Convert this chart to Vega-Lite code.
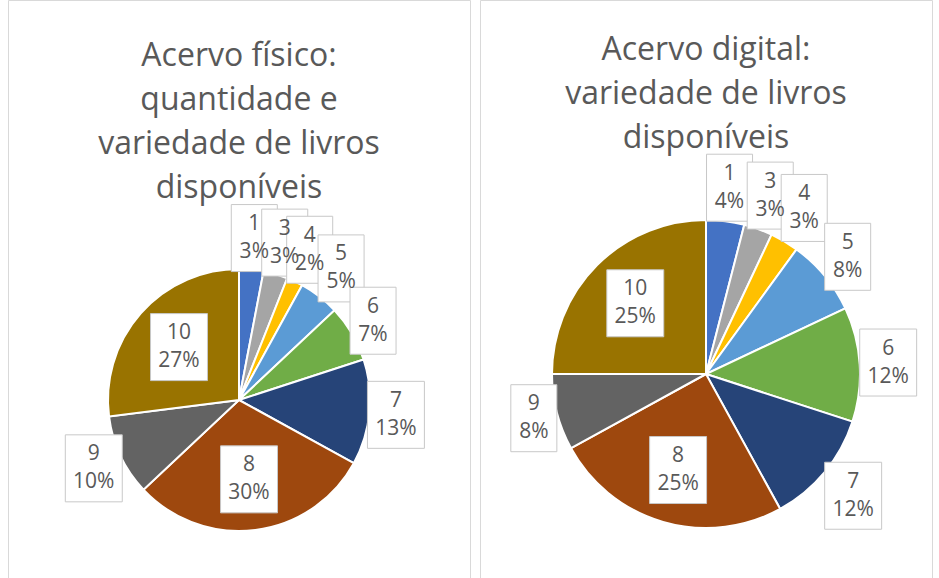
{
  "$schema": "https://vega.github.io/schema/vega-lite/v6.json",
  "background": "white",
  "padding": {"left": 7, "top": -1, "right": 0, "bottom": 0},
  "spacing": 8,
  "config": {
    "view": {"stroke": "#d9d9d9", "strokeWidth": 1},
    "font": "Open Sans",
    "title": {"font": "Open Sans", "fontSize": 32, "fontWeight": "normal", "color": "#595959", "lineHeight": 44, "anchor": "middle", "zindex": 1}
  },
  "datasets": {
    "fisico": [
      {"cat": 1, "pct": 3}, {"cat": 3, "pct": 3}, {"cat": 4, "pct": 2}, {"cat": 5, "pct": 5},
      {"cat": 6, "pct": 7}, {"cat": 7, "pct": 13}, {"cat": 8, "pct": 30}, {"cat": 9, "pct": 10}, {"cat": 10, "pct": 27}
    ],
    "digital": [
      {"cat": 1, "pct": 4}, {"cat": 3, "pct": 3}, {"cat": 4, "pct": 3}, {"cat": 5, "pct": 8},
      {"cat": 6, "pct": 12}, {"cat": 7, "pct": 12}, {"cat": 8, "pct": 25}, {"cat": 9, "pct": 8}, {"cat": 10, "pct": 25}
    ]
  },
  "hconcat": [
    {
      "width": 462,
      "height": 800,
      "view": {"stroke": "#d9d9d9"},
      "data": {"name": "fisico"},
      "transform": [
        {"joinaggregate": [{"op": "sum", "field": "pct", "as": "total"}]},
        {"window": [{"op": "sum", "field": "pct", "as": "cum"}], "sort": [{"field": "cat", "order": "ascending"}], "frame": [null, 0]},
        {"calculate": "2*PI*(datum.cum - datum.pct/2)/datum.total", "as": "ang"},
        {"calculate": "min((datum.pct >= 10 ? 28.5 : 23)/max(abs(sin(datum.ang)), 0.001), 33.5/max(abs(cos(datum.ang)), 0.001))", "as": "ext"},
        {"calculate": "datum.pct >= 25 ? 80 : 131 - 2 + datum.ext", "as": "lr"},
        {"calculate": "datum.lr*sin(datum.ang)", "as": "lx"},
        {"calculate": "datum.lr*cos(datum.ang)", "as": "ly"},
        {"calculate": "datum.cat + '\\n' + datum.pct + '%'", "as": "label"}
      ],
      "title": {"text": ["Acervo físico:", "quantidade e", "variedade de livros", "disponíveis"], "offset": -205},
      "layer": [
        {
          "mark": {"type": "arc", "outerRadius": 131, "stroke": "white", "strokeWidth": 2},
          "encoding": {
            "theta": {"field": "pct", "type": "quantitative", "stack": true},
            "order": {"field": "cat", "type": "quantitative", "sort": "ascending"},
            "color": {"field": "cat", "type": "nominal", "legend": null,
              "scale": {"domain": [1, 2, 3, 4, 5, 6, 7, 8, 9, 10],
                "range": ["#4472C4", "#ED7D31", "#A5A5A5", "#FFC000", "#5B9BD5", "#70AD47", "#264478", "#9E480E", "#636363", "#997300"]}}
          }
        },
        {
          "mark": {"type": "point", "filled": true, "fill": "white", "stroke": "#c8c8c8", "strokeWidth": 1, "opacity": 1, "size": 4489},
          "encoding": {
            "x": {"field": "lx", "type": "quantitative", "axis": null, "scale": {"domain": [-231, 231], "nice": false, "zero": false}},
            "y": {"field": "ly", "type": "quantitative", "axis": null, "scale": {"domain": [-400, 400], "nice": false, "zero": false}},
            "shape": {"condition": {"test": "datum.pct >= 10", "value": "M-0.85,-1H0.85V1H-0.85Z"}, "value": "M-0.687,-1H0.687V1H-0.687Z"}
          }
        },
        {
          "mark": {"type": "text", "font": "Open Sans", "fontSize": 21, "lineHeight": 28, "lineBreak": "\n", "color": "#595959", "align": "center", "baseline": "middle", "dy": -14},
          "encoding": {
            "x": {"field": "lx", "type": "quantitative"},
            "y": {"field": "ly", "type": "quantitative"},
            "text": {"field": "label", "type": "nominal"}
          }
        }
      ]
    },
    {
      "width": 452,
      "height": 748,
      "view": {"stroke": "#d9d9d9"},
      "data": {"name": "digital"},
      "transform": [
        {"joinaggregate": [{"op": "sum", "field": "pct", "as": "total"}]},
        {"window": [{"op": "sum", "field": "pct", "as": "cum"}], "sort": [{"field": "cat", "order": "ascending"}], "frame": [null, 0]},
        {"calculate": "2*PI*(datum.cum - datum.pct/2)/datum.total", "as": "ang"},
        {"calculate": "min((datum.pct >= 10 ? 28.5 : 23)/max(abs(sin(datum.ang)), 0.001), 33.5/max(abs(cos(datum.ang)), 0.001))", "as": "ext"},
        {"calculate": "datum.pct >= 25 ? 100 : 154 + 0 + datum.ext", "as": "lr"},
        {"calculate": "datum.lr*sin(datum.ang)", "as": "lx"},
        {"calculate": "datum.lr*cos(datum.ang)", "as": "ly"},
        {"calculate": "datum.cat + '\\n' + datum.pct + '%'", "as": "label"}
      ],
      "title": {"text": ["Acervo digital:", "variedade de livros", "disponíveis"], "offset": -155},
      "layer": [
        {
          "mark": {"type": "arc", "outerRadius": 154, "stroke": "white", "strokeWidth": 2},
          "encoding": {
            "theta": {"field": "pct", "type": "quantitative", "stack": true},
            "order": {"field": "cat", "type": "quantitative", "sort": "ascending"},
            "color": {"field": "cat", "type": "nominal", "legend": null,
              "scale": {"domain": [1, 2, 3, 4, 5, 6, 7, 8, 9, 10],
                "range": ["#4472C4", "#ED7D31", "#A5A5A5", "#FFC000", "#5B9BD5", "#70AD47", "#264478", "#9E480E", "#636363", "#997300"]}}
          }
        },
        {
          "mark": {"type": "point", "filled": true, "fill": "white", "stroke": "#c8c8c8", "strokeWidth": 1, "opacity": 1, "size": 4489},
          "encoding": {
            "x": {"field": "lx", "type": "quantitative", "axis": null, "scale": {"domain": [-226, 226], "nice": false, "zero": false}},
            "y": {"field": "ly", "type": "quantitative", "axis": null, "scale": {"domain": [-374, 374], "nice": false, "zero": false}},
            "shape": {"condition": {"test": "datum.pct >= 10", "value": "M-0.85,-1H0.85V1H-0.85Z"}, "value": "M-0.687,-1H0.687V1H-0.687Z"}
          }
        },
        {
          "mark": {"type": "text", "font": "Open Sans", "fontSize": 21, "lineHeight": 28, "lineBreak": "\n", "color": "#595959", "align": "center", "baseline": "middle", "dy": -14},
          "encoding": {
            "x": {"field": "lx", "type": "quantitative"},
            "y": {"field": "ly", "type": "quantitative"},
            "text": {"field": "label", "type": "nominal"}
          }
        }
      ]
    }
  ]
}
